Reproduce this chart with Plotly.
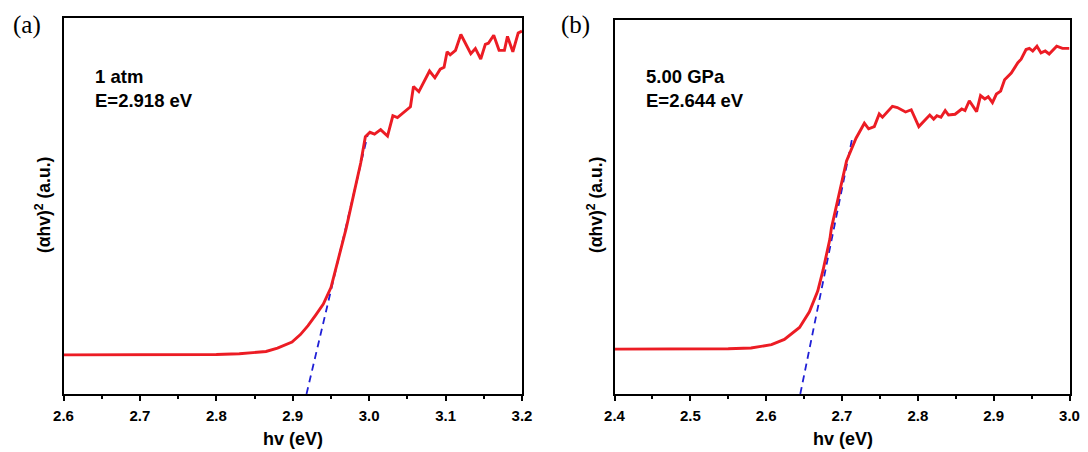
import plotly.graph_objects as go

# ---------------- Panel (a): 1 atm ----------------
hv_a = [2.600, 2.650, 2.700, 2.750, 2.800, 2.830, 2.850, 2.865, 2.880, 2.899, 2.910, 2.920,
        2.930, 2.940, 2.950, 2.959, 2.970, 2.980, 2.989, 2.995, 3.001, 3.007, 3.015, 3.024,
        3.031, 3.037, 3.054, 3.058, 3.065, 3.079, 3.086, 3.093, 3.098, 3.102, 3.106, 3.113,
        3.120, 3.133, 3.139, 3.146, 3.152, 3.156, 3.163, 3.170, 3.177, 3.181, 3.188, 3.195, 3.200]
abs_a = [10.4, 10.4, 10.4, 10.4, 10.5, 10.7, 11.0, 11.3, 12.2, 13.8, 15.8, 18.2,
         21.0, 23.9, 28.3, 35.7, 44.1, 53.3, 61.5, 68.4, 69.6, 69.1, 70.3, 68.6,
         74.0, 73.5, 76.4, 81.8, 80.4, 85.9, 84.1, 86.4, 86.9, 91.0, 90.2, 91.4,
         95.6, 90.5, 91.9, 89.1, 93.0, 93.3, 95.4, 91.4, 91.4, 95.1, 91.0, 96.0, 96.5]
fit_a_x = [2.918, 2.998]
fit_a_y = [0.0, 68.9]

# ---------------- Panel (b): 5.00 GPa ----------------
hv_b = [2.400, 2.450, 2.500, 2.550, 2.580, 2.607, 2.624, 2.644, 2.657, 2.668, 2.675, 2.684,
        2.686, 2.693, 2.702, 2.706, 2.7185, 2.7295, 2.7351, 2.7426, 2.7491, 2.7534, 2.7665, 2.7730,
        2.7838, 2.7913, 2.8013, 2.8079, 2.8157, 2.8209, 2.8252, 2.8305, 2.8361, 2.8405, 2.8491, 2.8579,
        2.8622, 2.8679, 2.8775, 2.8827, 2.8883, 2.8928, 2.8984, 2.9036, 2.9092, 2.9144, 2.9232, 2.9319,
        2.9362, 2.9427, 2.9471, 2.9515, 2.9571, 2.9624, 2.9680, 2.9732, 2.9831, 2.9907, 3.000]
abs_b = [12.0, 12.0, 12.0, 12.1, 12.3, 13.2, 14.6, 17.8, 22.0, 27.5, 33.1, 41.4,
         44.3, 50.8, 59.1, 62.3, 68.4, 72.4, 70.9, 71.5, 74.9, 74.0, 76.9, 76.6,
         75.4, 76.0, 71.5, 72.9, 74.6, 73.5, 74.4, 74.0, 75.8, 74.6, 74.8, 76.2,
         75.8, 78.4, 75.5, 79.8, 78.9, 79.5, 77.9, 80.2, 81.0, 84.0, 85.8, 88.6,
         89.5, 92.1, 92.4, 91.7, 93.0, 91.2, 91.7, 90.9, 93.0, 92.4, 92.4]
fit_b_x = [2.645, 2.713]
fit_b_y = [0.0, 67.9]

labels_a = ["1 atm", "E=2.918 eV"]
labels_b = ["5.00 GPa", "E=2.644 eV"]
ticks_a = [2.6, 2.7, 2.8, 2.9, 3.0, 3.1, 3.2]
ticks_b = [2.4, 2.5, 2.6, 2.7, 2.8, 2.9, 3.0]

RED = "#ec1c24"
BLUE = "#1f1fd6"
OFF = 8  # page body margin compensation
W, H = 1088, 452
SANS = "Liberation Sans, Arial"
SERIF = "Liberation Serif, Times New Roman"

fig = go.Figure()
fig.add_trace(go.Scatter(x=fit_a_x, y=fit_a_y, mode="lines", xaxis="x", yaxis="y",
                         line=dict(color=BLUE, width=1.8, dash="7px,5px"), showlegend=False))
fig.add_trace(go.Scatter(x=hv_a, y=abs_a, mode="lines", xaxis="x", yaxis="y",
                         line=dict(color=RED, width=2.9), showlegend=False))
fig.add_trace(go.Scatter(x=fit_b_x, y=fit_b_y, mode="lines", xaxis="x2", yaxis="y2",
                         line=dict(color=BLUE, width=1.8, dash="7px,5px"), showlegend=False))
fig.add_trace(go.Scatter(x=hv_b, y=abs_b, mode="lines", xaxis="x2", yaxis="y2",
                         line=dict(color=RED, width=2.9), showlegend=False))

tickfont = dict(family=SANS, size=15, color="black", weight="bold")

def xaxis_cfg(domain, rng, ticks, anchor):
    return dict(domain=domain, range=rng, anchor=anchor, tickmode="array", tickvals=ticks,
                ticktext=[f"{t:.1f}" for t in ticks], automargin=False,
                ticks="outside", ticklen=5, tickwidth=2, tickcolor="black",
                ticklabelstandoff=2,
                minor=dict(dtick=0.05, tick0=rng[0], ticks="outside", ticklen=3, tickwidth=1.5, tickcolor="black"),
                showline=True, mirror=True, linecolor="black", linewidth=2,
                showgrid=False, zeroline=False, tickfont=tickfont)

def yaxis_cfg(domain, anchor):
    return dict(domain=domain, range=[0, 100], anchor=anchor, showticklabels=False, ticks="",
                automargin=False,
                showline=True, mirror=True, linecolor="black", linewidth=2,
                showgrid=False, zeroline=False)

def px_x(v):
    return (v - OFF) / W

def px_y(v):
    return 1 - (v - OFF) / H

x1d = [px_x(63.5), px_x(522)]
x2d = [px_x(614.5), px_x(1069.5)]
y1d = [px_y(394), px_y(18)]
y2d = [px_y(394), px_y(20)]

annots = []
def txt(x, y, text, size, family=SANS, xanchor="left", angle=0):
    annots.append(dict(x=px_x(x), y=px_y(y), xref="paper", yref="paper", text=text, showarrow=False,
                       xanchor=xanchor, yanchor="middle", textangle=angle,
                       font=dict(family=family, size=size, color="black")))

txt(93, 76, "<b>" + labels_a[0] + "</b>", 18.5)
txt(93, 101, "<b>" + labels_a[1] + "</b>", 18.5)
txt(644, 76, "<b>" + labels_b[0] + "</b>", 18.5)
txt(644, 101, "<b>" + labels_b[1] + "</b>", 18.5)
txt(43, 205, "<b>(αhv)<sup>2</sup> (a.u.)</b>", 17.5, xanchor="center", angle=-90)
txt(595, 205, "<b>(αhv)<sup>2</sup> (a.u.)</b>", 17.5, xanchor="center", angle=-90)
txt(293, 439, "<b>hv (eV)</b>", 18, xanchor="center")
txt(843, 439, "<b>hv (eV)</b>", 18, xanchor="center")
txt(11, 25, "(a)", 25, family=SERIF)
txt(559, 25, "(b)", 25, family=SERIF)

fig.update_layout(
    width=W, height=H, margin=dict(l=0, r=0, t=0, b=0),
    paper_bgcolor="white", plot_bgcolor="white",
    xaxis=xaxis_cfg(x1d, [2.6, 3.2], ticks_a, "y"),
    yaxis=yaxis_cfg(y1d, "x"),
    xaxis2=xaxis_cfg(x2d, [2.4, 3.0], ticks_b, "y2"),
    yaxis2=yaxis_cfg(y2d, "x2"),
    annotations=annots,
)

fig.write_html("out.html")
